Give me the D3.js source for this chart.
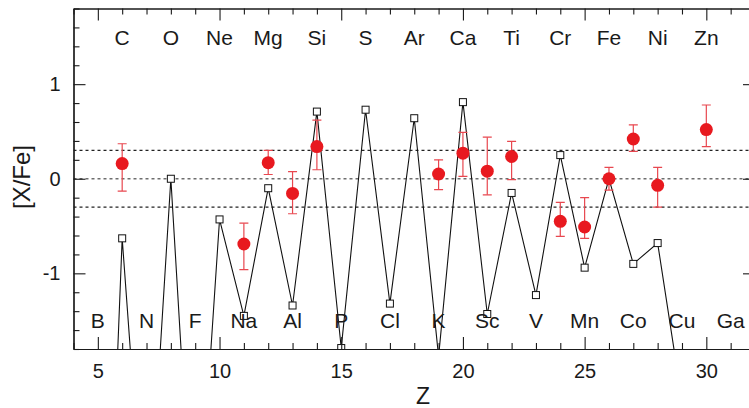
<!DOCTYPE html>
<html>
<head>
<meta charset="utf-8">
<script src="https://cdn.jsdelivr.net/npm/d3@7"></script>
<style>
  html, body { margin: 0; padding: 0; background: #fff; }
  svg { display: block; font-family: "Liberation Sans", Arial, sans-serif; }
</style>
</head>
<body>
<svg id="chart" width="749" height="408"></svg>
<script>
// Element symbols for Z = 5 .. 31
const elementZ = d3.range(5, 32);
const elementSymbols = ["B","C","N","O","F","Ne","Na","Mg","Al","Si","P","S","Cl","Ar","K","Ca","Sc","Ti","V","Cr","Mn","Fe","Co","Ni","Cu","Zn","Ga"];

// Model yields [X/Fe] for Z = 5 .. 29
const modelZ = d3.range(5, 30);
const modelValues = [-7.1, -0.63, -4.15, 0.00, -4.3, -0.43, -1.45, -0.10, -1.34, 0.71,
                     -1.79, 0.73, -1.32, 0.64, -1.88, 0.81, -1.43, -0.15, -1.23, 0.25,
                     -0.94, 0.00, -0.90, -0.68, -2.35];

// Observed abundances with error ranges
const obsZ     = [6, 11, 12, 13, 14, 19, 20, 21, 22, 24, 25, 26, 27, 28, 30];
const obsValue = [0.16, -0.69, 0.17, -0.155, 0.34, 0.05, 0.27, 0.08, 0.235, -0.45, -0.51, 0.00, 0.42, -0.07, 0.52];
const obsLow   = [-0.13, -0.96, 0.045, -0.37, 0.095, -0.115, 0.025, -0.17, -0.01, -0.61, -0.63, -0.12, 0.29, -0.30, 0.34];
const obsHigh  = [0.37, -0.47, 0.30, 0.075, 0.62, 0.20, 0.49, 0.44, 0.395, -0.25, -0.20, 0.12, 0.57, 0.12, 0.78];

// Reference levels
const refLevels = [0.3, 0, -0.3];

const xTicksMajor = [5, 10, 15, 20, 25, 30];
const yTicksMajor = [-1, 0, 1];

const svg = d3.select("#chart");
const pLeft = 73.5, pRight = 755, pTop = 8.5, pBottom = 349;

const x = d3.scaleLinear().domain([4, 32]).range([pLeft, pRight]);
const y = d3.scaleLinear().domain([-1.8, 1.8]).range([pBottom, pTop]);

const ink = "#1a1a1a";

// clip region for the plot area
svg.append("defs").append("clipPath").attr("id", "plotclip")
  .append("rect").attr("x", pLeft).attr("y", pTop)
  .attr("width", pRight - pLeft).attr("height", pBottom - pTop);

const plot = svg.append("g").attr("clip-path", "url(#plotclip)");

// dashed reference lines
plot.selectAll("line.ref").data(refLevels).join("line")
  .attr("class", "ref")
  .attr("x1", pLeft).attr("x2", pRight)
  .attr("y1", d => y(d)).attr("y2", d => y(d))
  .attr("stroke", d => d === 0 ? "#6e6e6e" : "#222")
  .attr("stroke-width", 1.3)
  .attr("stroke-dasharray", "3,3");

// element labels: even Z on top row, odd Z on bottom row
svg.append("g").selectAll("text").data(elementZ).join("text")
  .attr("x", d => x(d))
  .attr("y", d => d % 2 === 0 ? 45 : 328)
  .attr("text-anchor", "middle")
  .attr("font-size", 21)
  .attr("fill", ink)
  .text((d, i) => elementSymbols[i]);

// model line with square markers
const modelPts = modelZ.map((z, i) => [z, modelValues[i]]);
plot.append("path")
  .datum(modelPts)
  .attr("fill", "none")
  .attr("stroke", "#111")
  .attr("stroke-width", 1.1)
  .attr("d", d3.line().x(d => x(d[0])).y(d => y(d[1])));

const sq = 7;
plot.selectAll("rect.model").data(modelPts).join("rect")
  .attr("class", "model")
  .attr("x", d => x(d[0]) - sq / 2)
  .attr("y", d => y(d[1]) - sq / 2)
  .attr("width", sq).attr("height", sq)
  .attr("fill", "#fff")
  .attr("stroke", "#111")
  .attr("stroke-width", 1);

// observed points with error bars
const obs = obsZ.map((z, i) => ({ z, v: obsValue[i], lo: obsLow[i], hi: obsHigh[i] }));
const errColor = "#e8474f";
const cap = 4.5;
const eb = plot.append("g").attr("stroke", errColor).attr("stroke-width", 1.2);
eb.selectAll("line.v").data(obs).join("line")
  .attr("x1", d => x(d.z)).attr("x2", d => x(d.z))
  .attr("y1", d => y(d.lo)).attr("y2", d => y(d.hi));
eb.selectAll("line.hi").data(obs).join("line")
  .attr("x1", d => x(d.z) - cap).attr("x2", d => x(d.z) + cap)
  .attr("y1", d => y(d.hi)).attr("y2", d => y(d.hi));
eb.selectAll("line.lo").data(obs).join("line")
  .attr("x1", d => x(d.z) - cap).attr("x2", d => x(d.z) + cap)
  .attr("y1", d => y(d.lo)).attr("y2", d => y(d.lo));

plot.selectAll("circle.obs").data(obs).join("circle")
  .attr("class", "obs")
  .attr("cx", d => x(d.z)).attr("cy", d => y(d.v))
  .attr("r", 6.5)
  .attr("fill", "#e8191f");

// axes with inward ticks on all four sides
const xMinor = d3.range(4, 33).filter(v => v % 5 !== 0);
const yMinor = d3.range(-9, 10).map(v => +(v * 0.2).toFixed(1)).filter(v => !yTicksMajor.includes(v));

function styleAxis(g) {
  g.selectAll("path.domain").attr("stroke", ink).attr("stroke-width", 1.2);
  g.selectAll(".tick line").attr("stroke", ink).attr("stroke-width", 1.1);
  g.selectAll(".tick text").attr("fill", ink).attr("font-size", 20)
    .attr("font-family", "Liberation Sans, Arial, sans-serif");
}

const fmt = d => String(d);

// bottom
svg.append("g").attr("transform", `translate(0,${pBottom})`)
  .call(d3.axisBottom(x).tickValues(xMinor).tickSize(-6).tickSizeOuter(0).tickFormat(""))
  .call(styleAxis);
svg.append("g").attr("transform", `translate(0,${pBottom})`)
  .call(d3.axisBottom(x).tickValues(xTicksMajor).tickSize(-12).tickSizeOuter(0).tickPadding(15).tickFormat(fmt))
  .call(styleAxis);
// top
svg.append("g").attr("transform", `translate(0,${pTop})`)
  .call(d3.axisTop(x).tickValues(xMinor).tickSize(-6).tickSizeOuter(0).tickFormat(""))
  .call(styleAxis);
svg.append("g").attr("transform", `translate(0,${pTop})`)
  .call(d3.axisTop(x).tickValues(xTicksMajor).tickSize(-12).tickSizeOuter(0).tickFormat(""))
  .call(styleAxis);
// left
svg.append("g").attr("transform", `translate(${pLeft},0)`)
  .call(d3.axisLeft(y).tickValues(yMinor).tickSize(-6).tickSizeOuter(0).tickFormat(""))
  .call(styleAxis);
svg.append("g").attr("transform", `translate(${pLeft},0)`)
  .call(d3.axisLeft(y).tickValues(yTicksMajor).tickSize(-12).tickSizeOuter(0).tickPadding(13).tickFormat(fmt))
  .call(styleAxis);
// right
svg.append("g").attr("transform", `translate(${pRight},0)`)
  .call(d3.axisRight(y).tickValues(yMinor).tickSize(-6).tickSizeOuter(0).tickFormat(""))
  .call(styleAxis);
svg.append("g").attr("transform", `translate(${pRight},0)`)
  .call(d3.axisRight(y).tickValues(yTicksMajor).tickSize(-12).tickSizeOuter(0).tickFormat(""))
  .call(styleAxis);

// axis titles
svg.append("text")
  .attr("x", 423).attr("y", 404)
  .attr("text-anchor", "middle")
  .attr("font-size", 23).attr("fill", ink)
  .text("Z");

svg.append("text")
  .attr("transform", "translate(30,177) rotate(-90)")
  .attr("text-anchor", "middle")
  .attr("font-size", 24).attr("fill", ink)
  .text("[X/Fe]");
</script>
</body>
</html>
